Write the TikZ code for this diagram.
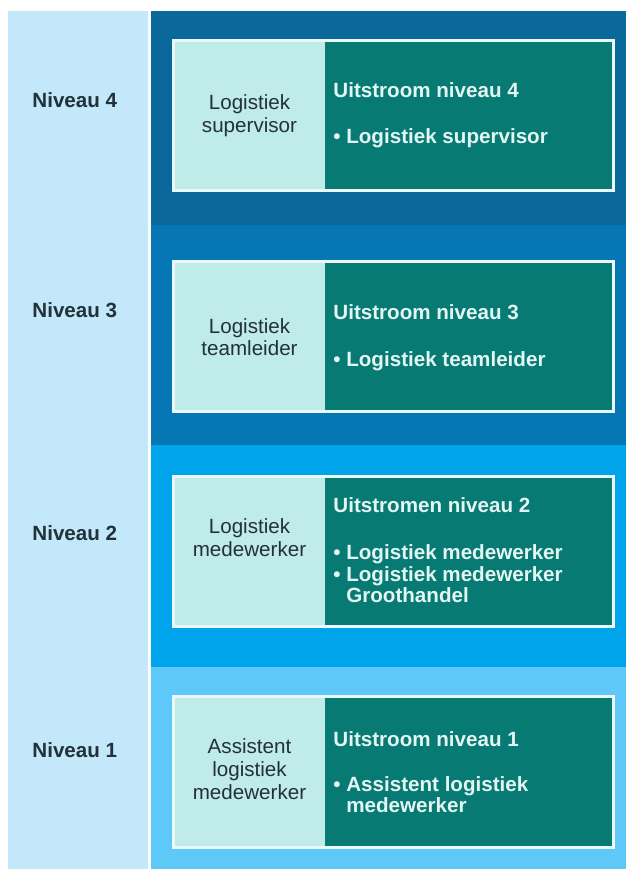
\documentclass[tikz,border=0pt]{standalone}
\usepackage{fontspec}
\setmainfont{Liberation Sans}
\usepackage{xcolor}

\definecolor{sidecol}{HTML}{C3E8FA}
\definecolor{bandfour}{HTML}{0B689B}
\definecolor{bandthree}{HTML}{0677B4}
\definecolor{bandtwo}{HTML}{00A4EA}
\definecolor{bandone}{HTML}{5EC9F8}
\definecolor{cellleft}{HTML}{BFEBE8}
\definecolor{cellright}{HTML}{077B73}
\definecolor{framecol}{HTML}{EAF8FB}
\definecolor{darktext}{HTML}{23313A}
\definecolor{lighttext}{HTML}{E4F6F3}

\tikzset{
  lcell/.style={rectangle, fill=cellleft, minimum width=75.5pt, minimum height=75pt, inner sep=0pt},
  rcell/.style={rectangle, fill=cellright, minimum width=144pt, minimum height=75pt, inner sep=0pt},
  frame/.style={draw=framecol, line width=1.5pt},
  lvl/.style={font=\fontsize{10.3}{12}\selectfont\bfseries, text=darktext, anchor=base west, inner sep=0pt},
  func/.style={font=\fontsize{10.3}{12}\selectfont, text=darktext, anchor=base, inner sep=0pt},
  uit/.style={font=\fontsize{10.3}{12}\selectfont\bfseries, text=lighttext, anchor=base west, inner sep=0pt}
}

\begin{document}
\begin{tikzpicture}[x=0.5pt,y=-0.5pt]
\useasboundingbox (0,0) rectangle (626,869);

% achtergrond
\fill[sidecol] (8,11) rectangle (148,869);
\fill[bandfour] (151,11) rectangle (626,225);
\fill[bandthree] (151,225) rectangle (626,445);
\fill[bandtwo] (151,445) rectangle (626,667);
\fill[bandone] (151,667) rectangle (626,869);

% niveau 4
\node[lcell] (l4) at (249.5,115.5) {};
\node[rcell] (r4) at (469,115.5) {};
\draw[frame] (l4.north west) rectangle (r4.south east);
\node[lvl] (n4) at (32,107) {Niveau 4};
\node[func] (f4a) at (249.5,109) {Logistiek};
\node[func] (f4b) at (249.5,132) {supervisor};
\node[uit] (u4) at (333,97) {Uitstroom niveau 4};
\node[uit] (u4a) at (333,143) {• Logistiek supervisor};

% niveau 3
\node[lcell] (l3) at (249.5,336.5) {};
\node[rcell] (r3) at (469,336.5) {};
\draw[frame] (l3.north west) rectangle (r3.south east);
\node[lvl] (n3) at (32,317) {Niveau 3};
\node[func] (f3a) at (249.5,333) {Logistiek};
\node[func] (f3b) at (249.5,355) {teamleider};
\node[uit] (u3) at (333,319) {Uitstroom niveau 3};
\node[uit] (u3a) at (333,366) {• Logistiek teamleider};

% niveau 2
\node[lcell] (l2) at (249.5,551.5) {};
\node[rcell] (r2) at (469,551.5) {};
\draw[frame] (l2.north west) rectangle (r2.south east);
\node[lvl] (n2) at (32,540) {Niveau 2};
\node[func] (f2a) at (249.5,533) {Logistiek};
\node[func] (f2b) at (249.5,556) {medewerker};
\node[uit] (u2) at (333,512) {Uitstromen niveau 2};
\node[uit] (u2a) at (333,559) {• Logistiek medewerker};
\node[uit] (u2b) at (333,581) {• Logistiek medewerker};
\node[uit] (u2c) at (333,602) {\phantom{• }Groothandel};

% niveau 1
\node[lcell] (l1) at (249.5,772) {};
\node[rcell] (r1) at (469,772) {};
\draw[frame] (l1.north west) rectangle (r1.south east);
\node[lvl] (n1) at (32,757) {Niveau 1};
\node[func] (f1a) at (249.5,753) {Assistent};
\node[func] (f1b) at (249.5,776) {logistiek};
\node[func] (f1c) at (249.5,799) {medewerker};
\node[uit] (u1) at (333,746) {Uitstroom niveau 1};
\node[uit] (u1a) at (333,791) {• Assistent logistiek};
\node[uit] (u1b) at (333,812) {\phantom{• }medewerker};

\end{tikzpicture}
\end{document}
